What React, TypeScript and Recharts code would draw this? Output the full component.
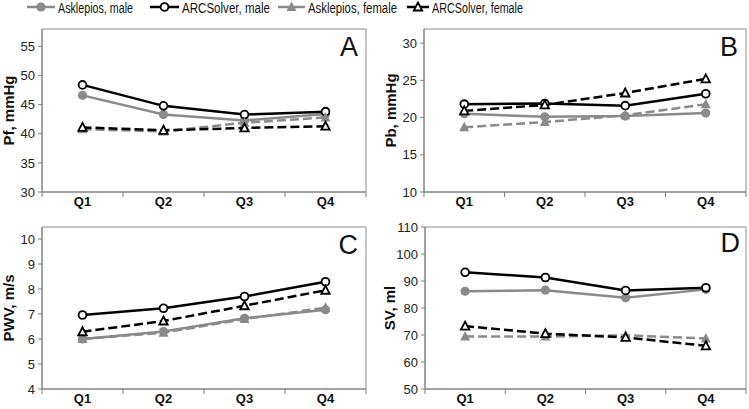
import React from 'react';
import { LineChart, Line, XAxis, YAxis, ReferenceArea } from 'recharts';

const quarters = ['Q1', 'Q2', 'Q3', 'Q4'];
const seriesNames = ['Asklepios, male', 'ARCSolver, male', 'Asklepios, female', 'ARCSolver, female'];

// Panel A - Pf
const pfAskMale = [46.6, 43.3, 42.3, 43.4];
const pfArcMale = [48.4, 44.8, 43.3, 43.8];
const pfAskFemale = [40.8, 40.4, 41.9, 42.8];
const pfArcFemale = [41.1, 40.6, 41.0, 41.3];

// Panel B - Pb
const pbAskMale = [20.5, 20.1, 20.2, 20.6];
const pbArcMale = [21.8, 21.9, 21.6, 23.2];
const pbAskFemale = [18.7, 19.4, 20.3, 21.8];
const pbArcFemale = [20.9, 21.7, 23.3, 25.2];

// Panel C - PWV
const pwvAskMale = [6.0, 6.3, 6.83, 7.17];
const pwvArcMale = [6.96, 7.23, 7.7, 8.29];
const pwvAskFemale = [6.0, 6.25, 6.8, 7.25];
const pwvArcFemale = [6.29, 6.72, 7.33, 7.95];

// Panel D - SV
const svAskMale = [86.2, 86.6, 83.8, 86.9];
const svArcMale = [93.2, 91.3, 86.5, 87.5];
const svAskFemale = [69.4, 69.4, 69.9, 68.7];
const svArcFemale = [73.3, 70.5, 69.1, 66.0];

const GRAY = '#8a8a8a';
const AXIS = '#7f7f7f';
const FONT = "'Liberation Sans', Arial, sans-serif";

const buildData = (am: number[], rm: number[], af: number[], rf: number[]) =>
    quarters.map((q, i) => ({ pos: i + 1, q, am: am[i], rm: rm[i], af: af[i], rf: rf[i] }));

const filledCircle = (p: any) => (
    <circle key={`fc-${p.index}`} cx={p.cx} cy={p.cy} r={4.6} fill={GRAY} />
);
const openCircle = (p: any) => (
    <circle key={`oc-${p.index}`} cx={p.cx} cy={p.cy} r={3.9} fill="#fff" stroke="#000" strokeWidth={1.8} />
);
const filledTri = (p: any) => (
    <path key={`ft-${p.index}`} d={`M${p.cx},${p.cy - 5.5}L${p.cx - 5},${p.cy + 4}L${p.cx + 5},${p.cy + 4}Z`} fill={GRAY} />
);
const openTri = (p: any) => (
    <path key={`ot-${p.index}`} d={`M${p.cx},${p.cy - 4.5}L${p.cx - 4.2},${p.cy + 3.5}L${p.cx + 4.2},${p.cy + 3.5}Z`} fill="#fff" stroke="#000" strokeWidth={1.8} />
);

const QTick = (props: any) => {
    const { x, y, payload } = props;
    const v = payload.value;
    if (v % 1 !== 0) {
        return <line x1={x} x2={x} y1={y} y2={y + 5} stroke={AXIS} />;
    }
    return (
        <text x={x} y={y + 14} textAnchor="middle" fontWeight="bold" fontSize={13} fill="#111" fontFamily={FONT}>
            {quarters[v - 1]}
        </text>
    );
};

interface PanelProps {
    left: number;
    top: number;
    width: number;
    height: number;
    mTop: number;
    mRight: number;
    yWidth: number;
    xHeight: number;
    domain: [number, number];
    ticks: number[];
    yLabel: string;
    labelX: number;
    letter: string;
    letterOffset: number;
    data: any[];
}

const Panel: React.FC<PanelProps> = (p) => (
    <div style={{ position: 'absolute', left: p.left, top: p.top }}>
        <LineChart width={p.width} height={p.height} data={p.data} margin={{ top: p.mTop, right: p.mRight, left: 0, bottom: 0 }}>
            <XAxis
                dataKey="pos"
                type="number"
                domain={[0.5, 4.5]}
                ticks={[0.5, 1, 1.5, 2, 2.5, 3, 3.5, 4, 4.5]}
                interval={0}
                height={p.xHeight}
                tickLine={false}
                tickSize={0}
                tickMargin={0}
                stroke={AXIS}
                tick={<QTick />}
            />
            <YAxis
                type="number"
                domain={p.domain}
                ticks={p.ticks}
                interval={0}
                width={p.yWidth}
                allowDataOverflow
                stroke={AXIS}
                tickSize={4}
                tickMargin={3}
                tick={{ fill: '#222', fontSize: 13, fontFamily: FONT }}
                label={{
                    value: p.yLabel,
                    angle: -90,
                    position: 'insideLeft',
                    offset: p.labelX,
                    style: { textAnchor: 'middle', fontWeight: 'bold', fontSize: 15, fill: '#111', fontFamily: FONT },
                }}
            />
            <ReferenceArea
                y1={p.domain[0]}
                y2={p.domain[1]}
                fill="none"
                stroke="#8c8c8c"
                strokeWidth={1}
                ifOverflow="visible"
                label={{ value: p.letter, position: 'insideTopRight', offset: p.letterOffset, fontSize: 27, fill: '#111', fontFamily: FONT }}
            />
            <Line dataKey="am" stroke={GRAY} strokeWidth={2.5} dot={filledCircle} isAnimationActive={false} />
            <Line dataKey="rm" stroke="#000" strokeWidth={2.5} dot={openCircle} isAnimationActive={false} />
            <Line dataKey="af" stroke={GRAY} strokeWidth={2.5} strokeDasharray="9 4" dot={filledTri} isAnimationActive={false} />
            <Line dataKey="rf" stroke="#000" strokeWidth={2.5} strokeDasharray="9 4" dot={openTri} isAnimationActive={false} />
        </LineChart>
    </div>
);

// legend geometry: line start, text start, text width
const legendLayout = [
    { lx: 27, tx: 58, tw: 75, color: GRAY, marker: 'fc' },
    { lx: 150, tx: 182, tw: 88, color: '#000', marker: 'oc' },
    { lx: 278, tx: 308, tw: 89, color: GRAY, marker: 'ft' },
    { lx: 407, tx: 432, tw: 91, color: '#000', marker: 'ot' },
];

const Legend = () => (
    <svg width={749} height={18} style={{ position: 'absolute', left: 0, top: 0 }}>
        {legendLayout.map((it, i) => {
            const cx = (it.lx + it.tx - 3) / 2;
            const cy = 7;
            return (
                <g key={i}>
                    <line x1={it.lx} x2={it.tx - 3} y1={cy} y2={cy} stroke={it.color} strokeWidth={2.5} />
                    {it.marker === 'fc' && filledCircle({ cx, cy, index: i })}
                    {it.marker === 'oc' && openCircle({ cx, cy, index: i })}
                    {it.marker === 'ft' && filledTri({ cx, cy, index: i })}
                    {it.marker === 'ot' && openTri({ cx, cy, index: i })}
                    <text x={it.tx} y={13} fontSize={14} fill="#111" fontFamily={FONT}
                        textLength={it.tw} lengthAdjust="spacingAndGlyphs">
                        {seriesNames[i]}
                    </text>
                </g>
            );
        })}
    </svg>
);

export default function App() {
    return (
        <div style={{ position: 'absolute', left: 0, top: 0, width: 749, height: 409, background: '#fff' }}>
            <Legend />
            <Panel left={0} top={20} width={375} height={190} mTop={9} mRight={9} yWidth={42} xHeight={18}
                domain={[30, 58]} ticks={[30, 35, 40, 45, 50, 55]} yLabel="Pf, mmHg" labelX={9} letter="A" letterOffset={8}
                data={buildData(pfAskMale, pfArcMale, pfAskFemale, pfArcFemale)} />
            <Panel left={375} top={20} width={374} height={190} mTop={9} mRight={3} yWidth={49} xHeight={18}
                domain={[10, 31.9]} ticks={[10, 15, 20, 25, 30]} yLabel="Pb, mmHg" labelX={16} letter="B" letterOffset={8}
                data={buildData(pbAskMale, pbArcMale, pbAskFemale, pbArcFemale)} />
            <Panel left={0} top={205} width={375} height={204} mTop={22} mRight={9} yWidth={42} xHeight={20}
                domain={[4, 10.48]} ticks={[4, 5, 6, 7, 8, 9, 10]} yLabel="PWV, m/s" labelX={9} letter="C" letterOffset={8}
                data={buildData(pwvAskMale, pwvArcMale, pwvAskFemale, pwvArcFemale)} />
            <Panel left={375} top={205} width={374} height={204} mTop={22} mRight={3} yWidth={50} xHeight={20}
                domain={[50, 110]} ticks={[50, 60, 70, 80, 90, 100, 110]} yLabel="SV, ml" labelX={15} letter="D" letterOffset={6}
                data={buildData(svAskMale, svArcMale, svAskFemale, svArcFemale)} />
        </div>
    );
}
